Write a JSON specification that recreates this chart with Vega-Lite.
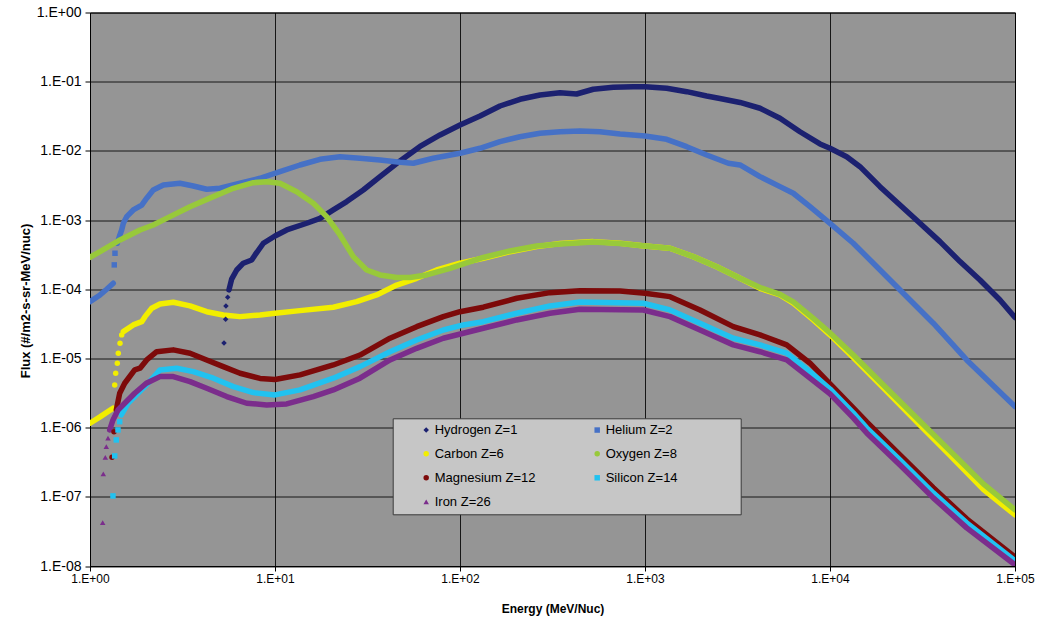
{
  "$schema": "https://vega.github.io/schema/vega-lite/v6.json",
  "width": 925,
  "height": 553.5,
  "autosize": {"type": "none"},
  "padding": {"left": 90, "top": 12.5, "right": 32, "bottom": 57},
  "background": "white",
  "config": {
    "view": {"fill": "#959595", "stroke": "black", "strokeWidth": 1},
    "axis": {"gridColor": "black", "gridOpacity": 0.85, "gridWidth": 1, "domainColor": "black", "tickColor": "black", "labelColor": "black", "titleColor": "black", "labelFont": "Liberation Sans", "titleFont": "Liberation Sans", "labelFlush": false, "labelOverlap": false},
    "legend": {"orient": "none", "legendX": 302.7, "legendY": 405.8, "direction": "horizontal", "columns": 2, "padding": 5, "fillColor": "#c6c6c6", "strokeColor": "#3a3a3a", "labelFont": "Liberation Sans", "labelFontSize": 13, "labelColor": "black", "symbolSize": 30, "symbolOffset": 22, "labelOffset": 2, "rowPadding": 10, "columnPadding": -23, "symbolStrokeWidth": 1.5, "labelLimit": 400}
  },
  "data": {"values": [
    {"s":"Hydrogen Z=1","e":5.30,"f":1.67e-5,"p":"dot"},
    {"s":"Hydrogen Z=1","e":5.41,"f":3.68e-5,"p":"dot"},
    {"s":"Hydrogen Z=1","e":5.43,"f":5.74e-5,"p":"dot"},
    {"s":"Hydrogen Z=1","e":5.55,"f":7.66e-5,"p":"dot"},
    {"s":"Hydrogen Z=1","e":5.64,"f":9.77e-5,"p":"a"},
    {"s":"Hydrogen Z=1","e":5.83,"f":1.40e-4,"p":"a"},
    {"s":"Hydrogen Z=1","e":6.21,"f":1.90e-4,"p":"a"},
    {"s":"Hydrogen Z=1","e":6.74,"f":2.38e-4,"p":"a"},
    {"s":"Hydrogen Z=1","e":7.48,"f":2.65e-4,"p":"a"},
    {"s":"Hydrogen Z=1","e":7.80,"f":3.13e-4,"p":"a"},
    {"s":"Hydrogen Z=1","e":8.65,"f":4.62e-4,"p":"a"},
    {"s":"Hydrogen Z=1","e":10.0,"f":5.89e-4,"p":"a"},
    {"s":"Hydrogen Z=1","e":11.57,"f":7.19e-4,"p":"a"},
    {"s":"Hydrogen Z=1","e":14.84,"f":8.99e-4,"p":"a"},
    {"s":"Hydrogen Z=1","e":17.51,"f":1.06e-3,"p":"a"},
    {"s":"Hydrogen Z=1","e":20.66,"f":1.40e-3,"p":"a"},
    {"s":"Hydrogen Z=1","e":24.42,"f":1.85e-3,"p":"a"},
    {"s":"Hydrogen Z=1","e":30.0,"f":2.72e-3,"p":"a"},
    {"s":"Hydrogen Z=1","e":36.95,"f":4.24e-3,"p":"a"},
    {"s":"Hydrogen Z=1","e":47.4,"f":7.15e-3,"p":"a"},
    {"s":"Hydrogen Z=1","e":60.8,"f":1.16e-2,"p":"a"},
    {"s":"Hydrogen Z=1","e":78.0,"f":1.70e-2,"p":"a"},
    {"s":"Hydrogen Z=1","e":100,"f":2.37e-2,"p":"a"},
    {"s":"Hydrogen Z=1","e":128.3,"f":3.19e-2,"p":"a"},
    {"s":"Hydrogen Z=1","e":164.5,"f":4.45e-2,"p":"a"},
    {"s":"Hydrogen Z=1","e":211,"f":5.57e-2,"p":"a"},
    {"s":"Hydrogen Z=1","e":270.6,"f":6.43e-2,"p":"a"},
    {"s":"Hydrogen Z=1","e":347,"f":6.93e-2,"p":"a"},
    {"s":"Hydrogen Z=1","e":427,"f":6.64e-2,"p":"a"},
    {"s":"Hydrogen Z=1","e":525,"f":7.77e-2,"p":"a"},
    {"s":"Hydrogen Z=1","e":674,"f":8.30e-2,"p":"a"},
    {"s":"Hydrogen Z=1","e":865,"f":8.47e-2,"p":"a"},
    {"s":"Hydrogen Z=1","e":1000,"f":8.47e-2,"p":"a"},
    {"s":"Hydrogen Z=1","e":1310,"f":8.03e-2,"p":"a"},
    {"s":"Hydrogen Z=1","e":1681,"f":7.17e-2,"p":"a"},
    {"s":"Hydrogen Z=1","e":2155,"f":6.21e-2,"p":"a"},
    {"s":"Hydrogen Z=1","e":2543,"f":5.72e-2,"p":"a"},
    {"s":"Hydrogen Z=1","e":3263,"f":5.01e-2,"p":"a"},
    {"s":"Hydrogen Z=1","e":4184,"f":4.13e-2,"p":"a"},
    {"s":"Hydrogen Z=1","e":5366,"f":2.96e-2,"p":"a"},
    {"s":"Hydrogen Z=1","e":6883,"f":1.89e-2,"p":"a"},
    {"s":"Hydrogen Z=1","e":8830,"f":1.26e-2,"p":"a"},
    {"s":"Hydrogen Z=1","e":10000,"f":1.09e-2,"p":"a"},
    {"s":"Hydrogen Z=1","e":12310,"f":8.24e-3,"p":"a"},
    {"s":"Hydrogen Z=1","e":14530,"f":5.91e-3,"p":"a"},
    {"s":"Hydrogen Z=1","e":18630,"f":3.04e-3,"p":"a"},
    {"s":"Hydrogen Z=1","e":23900,"f":1.65e-3,"p":"a"},
    {"s":"Hydrogen Z=1","e":30650,"f":8.99e-4,"p":"a"},
    {"s":"Hydrogen Z=1","e":39320,"f":4.88e-4,"p":"a"},
    {"s":"Hydrogen Z=1","e":50430,"f":2.51e-4,"p":"a"},
    {"s":"Hydrogen Z=1","e":64690,"f":1.36e-4,"p":"a"},
    {"s":"Hydrogen Z=1","e":82970,"f":7.00e-5,"p":"a"},
    {"s":"Hydrogen Z=1","e":100000,"f":3.91e-5,"p":"a"},

    {"s":"Helium Z=2","e":1.0,"f":6.62e-5,"p":"a"},
    {"s":"Helium Z=2","e":1.133,"f":8.27e-5,"p":"a"},
    {"s":"Helium Z=2","e":1.231,"f":1.00e-4,"p":"a"},
    {"s":"Helium Z=2","e":1.336,"f":1.22e-4,"p":"a"},
    {"s":"Helium Z=2","e":1.353,"f":2.25e-4,"p":"dot"},
    {"s":"Helium Z=2","e":1.365,"f":3.31e-4,"p":"dot"},
    {"s":"Helium Z=2","e":1.405,"f":4.62e-4,"p":"b"},
    {"s":"Helium Z=2","e":1.44,"f":5.75e-4,"p":"b"},
    {"s":"Helium Z=2","e":1.483,"f":7.19e-4,"p":"b"},
    {"s":"Helium Z=2","e":1.514,"f":8.99e-4,"p":"b"},
    {"s":"Helium Z=2","e":1.579,"f":1.12e-3,"p":"b"},
    {"s":"Helium Z=2","e":1.714,"f":1.40e-3,"p":"b"},
    {"s":"Helium Z=2","e":1.904,"f":1.65e-3,"p":"b"},
    {"s":"Helium Z=2","e":2.025,"f":2.07e-3,"p":"b"},
    {"s":"Helium Z=2","e":2.198,"f":2.72e-3,"p":"b"},
    {"s":"Helium Z=2","e":2.49,"f":3.21e-3,"p":"b"},
    {"s":"Helium Z=2","e":3.065,"f":3.40e-3,"p":"b"},
    {"s":"Helium Z=2","e":3.617,"f":3.11e-3,"p":"b"},
    {"s":"Helium Z=2","e":4.274,"f":2.79e-3,"p":"b"},
    {"s":"Helium Z=2","e":5.043,"f":2.88e-3,"p":"b"},
    {"s":"Helium Z=2","e":6.469,"f":3.40e-3,"p":"b"},
    {"s":"Helium Z=2","e":8.297,"f":4.02e-3,"p":"b"},
    {"s":"Helium Z=2","e":10.64,"f":5.00e-3,"p":"b"},
    {"s":"Helium Z=2","e":13.65,"f":6.25e-3,"p":"b"},
    {"s":"Helium Z=2","e":17.51,"f":7.56e-3,"p":"b"},
    {"s":"Helium Z=2","e":22.46,"f":8.24e-3,"p":"b"},
    {"s":"Helium Z=2","e":28.8,"f":7.82e-3,"p":"b"},
    {"s":"Helium Z=2","e":36.95,"f":7.39e-3,"p":"b"},
    {"s":"Helium Z=2","e":47.4,"f":6.84e-3,"p":"b"},
    {"s":"Helium Z=2","e":55.9,"f":6.62e-3,"p":"b"},
    {"s":"Helium Z=2","e":71.7,"f":7.82e-3,"p":"b"},
    {"s":"Helium Z=2","e":100,"f":9.23e-3,"p":"b"},
    {"s":"Helium Z=2","e":128.3,"f":1.09e-2,"p":"b"},
    {"s":"Helium Z=2","e":164.5,"f":1.36e-2,"p":"b"},
    {"s":"Helium Z=2","e":211,"f":1.60e-2,"p":"b"},
    {"s":"Helium Z=2","e":270.6,"f":1.80e-2,"p":"b"},
    {"s":"Helium Z=2","e":347,"f":1.89e-2,"p":"b"},
    {"s":"Helium Z=2","e":445,"f":1.94e-2,"p":"b"},
    {"s":"Helium Z=2","e":571,"f":1.89e-2,"p":"b"},
    {"s":"Helium Z=2","e":733,"f":1.75e-2,"p":"b"},
    {"s":"Helium Z=2","e":1000,"f":1.64e-2,"p":"b"},
    {"s":"Helium Z=2","e":1310,"f":1.47e-2,"p":"b"},
    {"s":"Helium Z=2","e":1681,"f":1.15e-2,"p":"b"},
    {"s":"Helium Z=2","e":2155,"f":8.72e-3,"p":"b"},
    {"s":"Helium Z=2","e":2820,"f":6.62e-3,"p":"b"},
    {"s":"Helium Z=2","e":3263,"f":6.25e-3,"p":"b"},
    {"s":"Helium Z=2","e":4184,"f":4.24e-3,"p":"b"},
    {"s":"Helium Z=2","e":5366,"f":3.04e-3,"p":"b"},
    {"s":"Helium Z=2","e":6333,"f":2.44e-3,"p":"b"},
    {"s":"Helium Z=2","e":7797,"f":1.56e-3,"p":"b"},
    {"s":"Helium Z=2","e":10000,"f":8.99e-4,"p":"b"},
    {"s":"Helium Z=2","e":13360,"f":4.62e-4,"p":"b"},
    {"s":"Helium Z=2","e":17150,"f":2.38e-4,"p":"b"},
    {"s":"Helium Z=2","e":21990,"f":1.22e-4,"p":"b"},
    {"s":"Helium Z=2","e":28200,"f":6.28e-5,"p":"b"},
    {"s":"Helium Z=2","e":36170,"f":3.23e-5,"p":"b"},
    {"s":"Helium Z=2","e":54820,"f":9.51e-6,"p":"b"},
    {"s":"Helium Z=2","e":100000,"f":2.02e-6,"p":"b"},

    {"s":"Carbon Z=6","e":1.0,"f":1.16e-6,"p":"a"},
    {"s":"Carbon Z=6","e":1.133,"f":1.43e-6,"p":"a"},
    {"s":"Carbon Z=6","e":1.331,"f":1.91e-6,"p":"a"},
    {"s":"Carbon Z=6","e":1.36,"f":4.14e-6,"p":"dot"},
    {"s":"Carbon Z=6","e":1.377,"f":6.11e-6,"p":"dot"},
    {"s":"Carbon Z=6","e":1.405,"f":8.53e-6,"p":"dot"},
    {"s":"Carbon Z=6","e":1.422,"f":1.19e-5,"p":"dot"},
    {"s":"Carbon Z=6","e":1.453,"f":1.66e-5,"p":"dot"},
    {"s":"Carbon Z=6","e":1.483,"f":2.19e-5,"p":"dot"},
    {"s":"Carbon Z=6","e":1.514,"f":2.44e-5,"p":"b"},
    {"s":"Carbon Z=6","e":1.714,"f":3.05e-5,"p":"b"},
    {"s":"Carbon Z=6","e":1.904,"f":3.40e-5,"p":"b"},
    {"s":"Carbon Z=6","e":1.983,"f":4.02e-5,"p":"b"},
    {"s":"Carbon Z=6","e":2.156,"f":5.31e-5,"p":"b"},
    {"s":"Carbon Z=6","e":2.39,"f":6.13e-5,"p":"b"},
    {"s":"Carbon Z=6","e":2.82,"f":6.49e-5,"p":"b"},
    {"s":"Carbon Z=6","e":3.472,"f":5.74e-5,"p":"b"},
    {"s":"Carbon Z=6","e":4.274,"f":4.74e-5,"p":"b"},
    {"s":"Carbon Z=6","e":5.254,"f":4.25e-5,"p":"b"},
    {"s":"Carbon Z=6","e":6.469,"f":4.02e-5,"p":"b"},
    {"s":"Carbon Z=6","e":8.297,"f":4.25e-5,"p":"b"},
    {"s":"Carbon Z=6","e":10,"f":4.50e-5,"p":"b"},
    {"s":"Carbon Z=6","e":13.65,"f":4.91e-5,"p":"b"},
    {"s":"Carbon Z=6","e":20.66,"f":5.50e-5,"p":"b"},
    {"s":"Carbon Z=6","e":27.64,"f":6.62e-5,"p":"b"},
    {"s":"Carbon Z=6","e":35.45,"f":8.27e-5,"p":"b"},
    {"s":"Carbon Z=6","e":45.5,"f":1.15e-4,"p":"b"},
    {"s":"Carbon Z=6","e":58.3,"f":1.44e-4,"p":"b"},
    {"s":"Carbon Z=6","e":74.8,"f":1.90e-4,"p":"b"},
    {"s":"Carbon Z=6","e":100,"f":2.38e-4,"p":"b"},
    {"s":"Carbon Z=6","e":133.6,"f":2.81e-4,"p":"b"},
    {"s":"Carbon Z=6","e":186.3,"f":3.49e-4,"p":"b"},
    {"s":"Carbon Z=6","e":259.7,"f":4.13e-4,"p":"b"},
    {"s":"Carbon Z=6","e":347,"f":4.59e-4,"p":"b"},
    {"s":"Carbon Z=6","e":525,"f":4.88e-4,"p":"b"},
    {"s":"Carbon Z=6","e":733,"f":4.62e-4,"p":"b"},
    {"s":"Carbon Z=6","e":1000,"f":4.22e-4,"p":"b"},
    {"s":"Carbon Z=6","e":1365,"f":3.91e-4,"p":"b"},
    {"s":"Carbon Z=6","e":1824,"f":2.96e-4,"p":"b"},
    {"s":"Carbon Z=6","e":2441,"f":2.12e-4,"p":"b"},
    {"s":"Carbon Z=6","e":3263,"f":1.44e-4,"p":"b"},
    {"s":"Carbon Z=6","e":4184,"f":1.03e-4,"p":"b"},
    {"s":"Carbon Z=6","e":5366,"f":8.27e-5,"p":"b"},
    {"s":"Carbon Z=6","e":6333,"f":6.28e-5,"p":"b"},
    {"s":"Carbon Z=6","e":8124,"f":3.60e-5,"p":"b"},
    {"s":"Carbon Z=6","e":10000,"f":2.19e-5,"p":"b"},
    {"s":"Carbon Z=6","e":13360,"f":1.03e-5,"p":"b"},
    {"s":"Carbon Z=6","e":19420,"f":3.75e-6,"p":"b"},
    {"s":"Carbon Z=6","e":29420,"f":1.21e-6,"p":"b"},
    {"s":"Carbon Z=6","e":44540,"f":3.97e-7,"p":"b"},
    {"s":"Carbon Z=6","e":67410,"f":1.28e-7,"p":"b"},
    {"s":"Carbon Z=6","e":100000,"f":5.47e-8,"p":"b"},

    {"s":"Oxygen Z=8","e":1.0,"f":2.90e-4,"p":"a"},
    {"s":"Oxygen Z=8","e":1.133,"f":3.49e-4,"p":"a"},
    {"s":"Oxygen Z=8","e":1.453,"f":5.16e-4,"p":"a"},
    {"s":"Oxygen Z=8","e":1.864,"f":7.19e-4,"p":"a"},
    {"s":"Oxygen Z=8","e":2.198,"f":8.49e-4,"p":"a"},
    {"s":"Oxygen Z=8","e":2.707,"f":1.12e-3,"p":"a"},
    {"s":"Oxygen Z=8","e":3.472,"f":1.56e-3,"p":"a"},
    {"s":"Oxygen Z=8","e":4.64,"f":2.18e-3,"p":"a"},
    {"s":"Oxygen Z=8","e":5.951,"f":2.88e-3,"p":"a"},
    {"s":"Oxygen Z=8","e":7.634,"f":3.47e-3,"p":"a"},
    {"s":"Oxygen Z=8","e":9.02,"f":3.59e-3,"p":"a"},
    {"s":"Oxygen Z=8","e":10.64,"f":3.40e-3,"p":"a"},
    {"s":"Oxygen Z=8","e":13.1,"f":2.57e-3,"p":"a"},
    {"s":"Oxygen Z=8","e":16.11,"f":1.75e-3,"p":"a"},
    {"s":"Oxygen Z=8","e":19.03,"f":1.12e-3,"p":"a"},
    {"s":"Oxygen Z=8","e":22.46,"f":6.09e-4,"p":"a"},
    {"s":"Oxygen Z=8","e":26.5,"f":2.96e-4,"p":"a"},
    {"s":"Oxygen Z=8","e":31.31,"f":1.90e-4,"p":"a"},
    {"s":"Oxygen Z=8","e":36.95,"f":1.61e-4,"p":"a"},
    {"s":"Oxygen Z=8","e":45.5,"f":1.48e-4,"p":"a"},
    {"s":"Oxygen Z=8","e":53.66,"f":1.48e-4,"p":"a"},
    {"s":"Oxygen Z=8","e":66.07,"f":1.61e-4,"p":"a"},
    {"s":"Oxygen Z=8","e":88.3,"f":2.01e-4,"p":"a"},
    {"s":"Oxygen Z=8","e":133.6,"f":2.88e-4,"p":"a"},
    {"s":"Oxygen Z=8","e":186.3,"f":3.58e-4,"p":"a"},
    {"s":"Oxygen Z=8","e":259.7,"f":4.22e-4,"p":"a"},
    {"s":"Oxygen Z=8","e":347,"f":4.51e-4,"p":"a"},
    {"s":"Oxygen Z=8","e":525,"f":4.83e-4,"p":"a"},
    {"s":"Oxygen Z=8","e":733,"f":4.59e-4,"p":"a"},
    {"s":"Oxygen Z=8","e":1000,"f":4.22e-4,"p":"a"},
    {"s":"Oxygen Z=8","e":1365,"f":3.91e-4,"p":"a"},
    {"s":"Oxygen Z=8","e":1824,"f":2.96e-4,"p":"a"},
    {"s":"Oxygen Z=8","e":2441,"f":2.12e-4,"p":"a"},
    {"s":"Oxygen Z=8","e":3263,"f":1.44e-4,"p":"a"},
    {"s":"Oxygen Z=8","e":4184,"f":1.06e-4,"p":"a"},
    {"s":"Oxygen Z=8","e":5366,"f":8.41e-5,"p":"a"},
    {"s":"Oxygen Z=8","e":6333,"f":6.55e-5,"p":"a"},
    {"s":"Oxygen Z=8","e":8124,"f":3.79e-5,"p":"a"},
    {"s":"Oxygen Z=8","e":10000,"f":2.34e-5,"p":"a"},
    {"s":"Oxygen Z=8","e":13360,"f":1.12e-5,"p":"a"},
    {"s":"Oxygen Z=8","e":19420,"f":4.14e-6,"p":"a"},
    {"s":"Oxygen Z=8","e":29420,"f":1.38e-6,"p":"a"},
    {"s":"Oxygen Z=8","e":44540,"f":4.61e-7,"p":"a"},
    {"s":"Oxygen Z=8","e":67410,"f":1.54e-7,"p":"a"},
    {"s":"Oxygen Z=8","e":100000,"f":6.47e-8,"p":"a"},

    {"s":"Magnesium Z=12","e":1.315,"f":3.73e-7,"p":"dot"},
    {"s":"Magnesium Z=12","e":1.348,"f":8.75e-7,"p":"dot"},
    {"s":"Magnesium Z=12","e":1.387,"f":1.80e-6,"p":"a"},
    {"s":"Magnesium Z=12","e":1.447,"f":3.14e-6,"p":"a"},
    {"s":"Magnesium Z=12","e":1.54,"f":4.38e-6,"p":"a"},
    {"s":"Magnesium Z=12","e":1.744,"f":6.82e-6,"p":"a"},
    {"s":"Magnesium Z=12","e":1.864,"f":7.22e-6,"p":"a"},
    {"s":"Magnesium Z=12","e":2.025,"f":9.51e-6,"p":"a"},
    {"s":"Magnesium Z=12","e":2.294,"f":1.25e-5,"p":"a"},
    {"s":"Magnesium Z=12","e":2.82,"f":1.33e-5,"p":"a"},
    {"s":"Magnesium Z=12","e":3.472,"f":1.19e-5,"p":"a"},
    {"s":"Magnesium Z=12","e":4.274,"f":9.51e-6,"p":"a"},
    {"s":"Magnesium Z=12","e":5.254,"f":7.62e-6,"p":"a"},
    {"s":"Magnesium Z=12","e":6.469,"f":6.11e-6,"p":"a"},
    {"s":"Magnesium Z=12","e":8.297,"f":5.14e-6,"p":"a"},
    {"s":"Magnesium Z=12","e":10,"f":4.97e-6,"p":"a"},
    {"s":"Magnesium Z=12","e":13.65,"f":5.78e-6,"p":"a"},
    {"s":"Magnesium Z=12","e":20.66,"f":8.05e-6,"p":"a"},
    {"s":"Magnesium Z=12","e":28.8,"f":1.12e-5,"p":"a"},
    {"s":"Magnesium Z=12","e":41.84,"f":1.96e-5,"p":"a"},
    {"s":"Magnesium Z=12","e":58.33,"f":2.88e-5,"p":"a"},
    {"s":"Magnesium Z=12","e":81.24,"f":4.02e-5,"p":"a"},
    {"s":"Magnesium Z=12","e":100,"f":4.74e-5,"p":"a"},
    {"s":"Magnesium Z=12","e":133.6,"f":5.50e-5,"p":"a"},
    {"s":"Magnesium Z=12","e":202.6,"f":7.41e-5,"p":"a"},
    {"s":"Magnesium Z=12","e":306.5,"f":8.93e-5,"p":"a"},
    {"s":"Magnesium Z=12","e":445,"f":9.55e-5,"p":"a"},
    {"s":"Magnesium Z=12","e":733,"f":9.45e-5,"p":"a"},
    {"s":"Magnesium Z=12","e":1000,"f":8.75e-5,"p":"a"},
    {"s":"Magnesium Z=12","e":1365,"f":7.82e-5,"p":"a"},
    {"s":"Magnesium Z=12","e":1983,"f":5.02e-5,"p":"a"},
    {"s":"Magnesium Z=12","e":3001,"f":2.88e-5,"p":"a"},
    {"s":"Magnesium Z=12","e":4184,"f":2.19e-5,"p":"a"},
    {"s":"Magnesium Z=12","e":5833,"f":1.57e-5,"p":"a"},
    {"s":"Magnesium Z=12","e":7797,"f":8.53e-6,"p":"a"},
    {"s":"Magnesium Z=12","e":10000,"f":4.28e-6,"p":"a"},
    {"s":"Magnesium Z=12","e":13360,"f":1.93e-6,"p":"a"},
    {"s":"Magnesium Z=12","e":15790,"f":1.21e-6,"p":"a"},
    {"s":"Magnesium Z=12","e":23900,"f":4.03e-7,"p":"a"},
    {"s":"Magnesium Z=12","e":36170,"f":1.35e-7,"p":"a"},
    {"s":"Magnesium Z=12","e":54820,"f":4.80e-8,"p":"a"},
    {"s":"Magnesium Z=12","e":100000,"f":1.35e-8,"p":"a"},

    {"s":"Silicon Z=14","e":1.331,"f":1.03e-7,"p":"dot"},
    {"s":"Silicon Z=14","e":1.36,"f":3.90e-7,"p":"dot"},
    {"s":"Silicon Z=14","e":1.387,"f":6.64e-7,"p":"dot"},
    {"s":"Silicon Z=14","e":1.417,"f":9.27e-7,"p":"dot"},
    {"s":"Silicon Z=14","e":1.447,"f":1.22e-6,"p":"dot"},
    {"s":"Silicon Z=14","e":1.476,"f":1.53e-6,"p":"a"},
    {"s":"Silicon Z=14","e":1.605,"f":2.25e-6,"p":"a"},
    {"s":"Silicon Z=14","e":1.817,"f":3.14e-6,"p":"a"},
    {"s":"Silicon Z=14","e":2.058,"f":4.38e-6,"p":"a"},
    {"s":"Silicon Z=14","e":2.39,"f":6.82e-6,"p":"a"},
    {"s":"Silicon Z=14","e":2.942,"f":7.22e-6,"p":"a"},
    {"s":"Silicon Z=14","e":3.617,"f":6.44e-6,"p":"a"},
    {"s":"Silicon Z=14","e":4.64,"f":5.18e-6,"p":"a"},
    {"s":"Silicon Z=14","e":5.951,"f":3.91e-6,"p":"a"},
    {"s":"Silicon Z=14","e":7.634,"f":3.21e-6,"p":"a"},
    {"s":"Silicon Z=14","e":10,"f":2.97e-6,"p":"a"},
    {"s":"Silicon Z=14","e":13.65,"f":3.51e-6,"p":"a"},
    {"s":"Silicon Z=14","e":20.66,"f":5.18e-6,"p":"a"},
    {"s":"Silicon Z=14","e":28.8,"f":7.62e-6,"p":"a"},
    {"s":"Silicon Z=14","e":41.84,"f":1.25e-5,"p":"a"},
    {"s":"Silicon Z=14","e":58.33,"f":1.85e-5,"p":"a"},
    {"s":"Silicon Z=14","e":81.24,"f":2.58e-5,"p":"a"},
    {"s":"Silicon Z=14","e":104.2,"f":3.05e-5,"p":"a"},
    {"s":"Silicon Z=14","e":133.6,"f":3.40e-5,"p":"a"},
    {"s":"Silicon Z=14","e":202.6,"f":4.50e-5,"p":"a"},
    {"s":"Silicon Z=14","e":306.5,"f":5.74e-5,"p":"a"},
    {"s":"Silicon Z=14","e":445,"f":6.55e-5,"p":"a"},
    {"s":"Silicon Z=14","e":979,"f":6.28e-5,"p":"a"},
    {"s":"Silicon Z=14","e":1365,"f":5.02e-5,"p":"a"},
    {"s":"Silicon Z=14","e":1983,"f":3.23e-5,"p":"a"},
    {"s":"Silicon Z=14","e":3001,"f":1.96e-5,"p":"a"},
    {"s":"Silicon Z=14","e":4184,"f":1.57e-5,"p":"a"},
    {"s":"Silicon Z=14","e":5833,"f":1.19e-5,"p":"a"},
    {"s":"Silicon Z=14","e":7797,"f":6.44e-6,"p":"a"},
    {"s":"Silicon Z=14","e":10000,"f":3.62e-6,"p":"a"},
    {"s":"Silicon Z=14","e":13360,"f":1.63e-6,"p":"a"},
    {"s":"Silicon Z=14","e":15790,"f":9.90e-7,"p":"a"},
    {"s":"Silicon Z=14","e":23900,"f":3.41e-7,"p":"a"},
    {"s":"Silicon Z=14","e":36170,"f":1.14e-7,"p":"a"},
    {"s":"Silicon Z=14","e":54820,"f":4.20e-8,"p":"a"},
    {"s":"Silicon Z=14","e":100000,"f":1.19e-8,"p":"a"},

    {"s":"Iron Z=26","e":1.171,"f":4.24e-8,"p":"dot"},
    {"s":"Iron Z=26","e":1.18,"f":2.14e-7,"p":"dot"},
    {"s":"Iron Z=26","e":1.21,"f":3.73e-7,"p":"dot"},
    {"s":"Iron Z=26","e":1.225,"f":5.31e-7,"p":"dot"},
    {"s":"Iron Z=26","e":1.251,"f":7.03e-7,"p":"dot"},
    {"s":"Iron Z=26","e":1.278,"f":9.27e-7,"p":"a"},
    {"s":"Iron Z=26","e":1.331,"f":1.29e-6,"p":"a"},
    {"s":"Iron Z=26","e":1.417,"f":1.80e-6,"p":"a"},
    {"s":"Iron Z=26","e":1.54,"f":2.25e-6,"p":"a"},
    {"s":"Iron Z=26","e":1.744,"f":3.14e-6,"p":"a"},
    {"s":"Iron Z=26","e":2.015,"f":4.38e-6,"p":"a"},
    {"s":"Iron Z=26","e":2.39,"f":5.46e-6,"p":"a"},
    {"s":"Iron Z=26","e":2.82,"f":5.46e-6,"p":"a"},
    {"s":"Iron Z=26","e":3.472,"f":4.62e-6,"p":"a"},
    {"s":"Iron Z=26","e":4.274,"f":3.71e-6,"p":"a"},
    {"s":"Iron Z=26","e":5.482,"f":2.81e-6,"p":"a"},
    {"s":"Iron Z=26","e":7.031,"f":2.25e-6,"p":"a"},
    {"s":"Iron Z=26","e":9.02,"f":2.13e-6,"p":"a"},
    {"s":"Iron Z=26","e":11.57,"f":2.20e-6,"p":"a"},
    {"s":"Iron Z=26","e":16.11,"f":2.81e-6,"p":"a"},
    {"s":"Iron Z=26","e":20.66,"f":3.51e-6,"p":"a"},
    {"s":"Iron Z=26","e":28.8,"f":5.18e-6,"p":"a"},
    {"s":"Iron Z=26","e":41.84,"f":9.51e-6,"p":"a"},
    {"s":"Iron Z=26","e":58.33,"f":1.40e-5,"p":"a"},
    {"s":"Iron Z=26","e":81.24,"f":1.96e-5,"p":"a"},
    {"s":"Iron Z=26","e":104.2,"f":2.31e-5,"p":"a"},
    {"s":"Iron Z=26","e":133.6,"f":2.73e-5,"p":"a"},
    {"s":"Iron Z=26","e":202.6,"f":3.60e-5,"p":"a"},
    {"s":"Iron Z=26","e":306.5,"f":4.50e-5,"p":"a"},
    {"s":"Iron Z=26","e":445,"f":5.14e-5,"p":"a"},
    {"s":"Iron Z=26","e":979,"f":5.02e-5,"p":"a"},
    {"s":"Iron Z=26","e":1365,"f":4.02e-5,"p":"a"},
    {"s":"Iron Z=26","e":1983,"f":2.58e-5,"p":"a"},
    {"s":"Iron Z=26","e":3001,"f":1.57e-5,"p":"a"},
    {"s":"Iron Z=26","e":4184,"f":1.25e-5,"p":"a"},
    {"s":"Iron Z=26","e":5833,"f":9.51e-6,"p":"a"},
    {"s":"Iron Z=26","e":7797,"f":5.18e-6,"p":"a"},
    {"s":"Iron Z=26","e":10000,"f":3.07e-6,"p":"a"},
    {"s":"Iron Z=26","e":13360,"f":1.38e-6,"p":"a"},
    {"s":"Iron Z=26","e":15790,"f":8.38e-7,"p":"a"},
    {"s":"Iron Z=26","e":23900,"f":2.89e-7,"p":"a"},
    {"s":"Iron Z=26","e":36170,"f":9.64e-8,"p":"a"},
    {"s":"Iron Z=26","e":54820,"f":3.56e-8,"p":"a"},
    {"s":"Iron Z=26","e":100000,"f":1.04e-8,"p":"a"}
  ]},
  "encoding": {
    "x": {"field": "e", "type": "quantitative", "scale": {"type": "log", "domain": [1, 100000], "nice": false},
      "axis": {"values": [1, 10, 100, 1000, 10000, 100000], "labelExpr": "'1.E' + (datum.value >= 1 ? '+' : '-') + format(abs(round(log(datum.value) / LN10)), '02d')", "title": "Energy (MeV/Nuc)", "titleFontSize": 12, "titleFontWeight": "bold", "labelFontSize": 12, "tickSize": 5, "labelPadding": 2, "grid": true, "titleY": 37}},
    "y": {"field": "f", "type": "quantitative", "scale": {"type": "log", "domain": [1e-8, 1], "nice": false},
      "axis": {"values": [1e-8, 1e-7, 1e-6, 1e-5, 1e-4, 1e-3, 1e-2, 1e-1, 1], "labelExpr": "'1.E' + (datum.value >= 1 ? '+' : '-') + format(abs(round(log(datum.value) / LN10)), '02d')", "title": "Flux (#/m2-s-sr-MeV/nuc)", "titleFontSize": 13, "titleFontWeight": "bold", "labelFontSize": 14, "tickSize": 5, "labelPadding": 4, "grid": true, "titleX": -58, "titleY": 288}}
  },
  "layer": [
    {
      "transform": [{"filter": "datum.p != 'dot'"}],
      "mark": {"type": "line", "strokeWidth": 5.5, "strokeCap": "round", "strokeJoin": "round", "clip": true},
      "encoding": {
        "stroke": {"field": "s", "type": "nominal", "scale": {"domain": ["Iron Z=26", "Silicon Z=14", "Magnesium Z=12", "Oxygen Z=8", "Carbon Z=6", "Helium Z=2", "Hydrogen Z=1"], "range": ["#7b2d8c", "#21c2f0", "#7d0a0a", "#98c93a", "#f2ee00", "#4671c6", "#1c2170"]}, "legend": null},
        "detail": {"field": "p", "type": "nominal"}
      }
    },
    {
      "transform": [{"filter": "datum.p == 'dot'"}],
      "mark": {"type": "point", "filled": true, "size": 30, "opacity": 1, "clip": true},
      "encoding": {
        "color": {"field": "s", "type": "nominal", "scale": {"domain": ["Hydrogen Z=1", "Helium Z=2", "Carbon Z=6", "Oxygen Z=8", "Magnesium Z=12", "Silicon Z=14", "Iron Z=26"], "range": ["#1c2170", "#4671c6", "#f2ee00", "#98c93a", "#7d0a0a", "#21c2f0", "#7b2d8c"]},
          "legend": {"title": null, "labelExpr": "datum.label + ((datum.label === 'Helium Z=2' || datum.label === 'Oxygen Z=8' || datum.label === 'Silicon Z=14') ? '\u00a0\u00a0\u00a0\u00a0\u00a0\u00a0\u00a0\u00a0\u00a0\u00a0\u00a0\u00a0\u00a0\u00a0\u00a0\u00a0\u200b' : '\u00a0\u00a0\u00a0\u00a0\u00a0\u00a0\u00a0\u00a0\u00a0\u200b')"}},
        "shape": {"field": "s", "type": "nominal", "scale": {"domain": ["Hydrogen Z=1", "Helium Z=2", "Carbon Z=6", "Oxygen Z=8", "Magnesium Z=12", "Silicon Z=14", "Iron Z=26"], "range": ["diamond", "square", "circle", "circle", "circle", "square", "triangle-up"]},
          "legend": {"title": null, "labelExpr": "datum.label + ((datum.label === 'Helium Z=2' || datum.label === 'Oxygen Z=8' || datum.label === 'Silicon Z=14') ? '\u00a0\u00a0\u00a0\u00a0\u00a0\u00a0\u00a0\u00a0\u00a0\u00a0\u00a0\u00a0\u00a0\u00a0\u00a0\u00a0\u200b' : '\u00a0\u00a0\u00a0\u00a0\u00a0\u00a0\u00a0\u00a0\u00a0\u200b')"}}
      }
    }
  ]
}
